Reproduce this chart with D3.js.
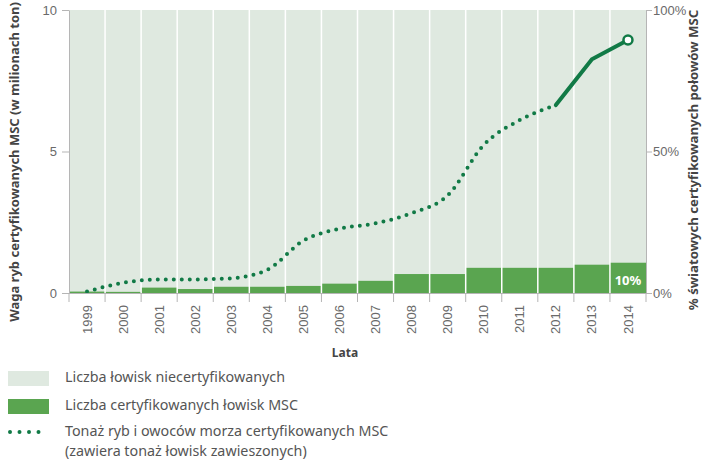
<!DOCTYPE html>
<html>
<head>
<meta charset="utf-8">
<script src="https://cdn.jsdelivr.net/npm/d3@7"></script>
<style>
  body { margin: 0; background: #fff; }
  svg { font-family: "Noto Sans", "Open Sans", sans-serif; }
</style>
</head>
<body>
<div class="chart"></div>
<script>
const years = ["1999", "2000", "2001", "2002", "2003", "2004", "2005", "2006",
               "2007", "2008", "2009", "2010", "2011", "2012", "2013", "2014"];
// share of certified catch (%), bars, right axis
const certifiedShare = [0.5, 0.4, 1.9, 1.4, 2.2, 2.2, 2.5, 3.3, 4.3, 6.7, 6.7, 8.9, 8.9, 8.9, 10.0, 10.7];
// certified tonnage (million t), line, left axis
const tonnage = [0.05, 0.36, 0.48, 0.48, 0.52, 0.82, 1.85, 2.27, 2.46, 2.82, 3.45, 5.23, 6.11, 6.64, 8.26, 8.94];
const solidFrom = "2012";
const leftTicks = [0, 5, 10];
const rightTicks = [0, 50, 100];
const legendItems = [
  { type: "rect", color: "#dfe9e0", lines: ["Liczba łowisk niecertyfikowanych"] },
  { type: "rect", color: "#5aa550", lines: ["Liczba certyfikowanych łowisk MSC"] },
  { type: "dots", color: "#117a46", lines: ["Tonaż ryb i owoców morza certyfikowanych MSC", "(zawiera tonaż łowisk zawieszonych)"] }
];

const width = 705, height = 460;
const margin = { top: 10, right: 59, bottom: 167, left: 69 };
const lineColor = "#117a46";
const axisColor = "#b5b5b5";
const tickColor = "#6a6a6a";

const svg = d3.select(".chart").append("svg")
    .attr("width", width)
    .attr("height", height);

const x = d3.scaleBand()
    .domain(years)
    .range([margin.left, width - margin.right]);

const yLeft = d3.scaleLinear()
    .domain([0, 10])
    .range([height - margin.bottom, margin.top]);

const yRight = d3.scaleLinear()
    .domain([0, 100])
    .range([height - margin.bottom, margin.top]);

// background
svg.append("rect")
    .attr("x", margin.left)
    .attr("y", margin.top)
    .attr("width", x.range()[1] - margin.left)
    .attr("height", yLeft(0) - margin.top)
    .attr("fill", "#dfe9e0");

// bars
svg.append("g").selectAll("rect")
    .data(years)
    .join("rect")
    .attr("x", d => x(d))
    .attr("width", x.bandwidth())
    .attr("y", (d, i) => yRight(certifiedShare[i]))
    .attr("height", (d, i) => yRight(0) - yRight(certifiedShare[i]))
    .attr("fill", "#5aa550");

// white separators
svg.append("g").selectAll("line")
    .data(years.slice(1))
    .join("line")
    .attr("x1", d => x(d))
    .attr("x2", d => x(d))
    .attr("y1", margin.top)
    .attr("y2", yLeft(0))
    .attr("stroke", "#fff")
    .attr("stroke-width", 1.5);

// label inside last bar
const last = years[years.length - 1];
svg.append("text")
    .attr("x", x(last) + x.bandwidth() / 2)
    .attr("y", yRight(0) - 8)
    .attr("text-anchor", "middle")
    .attr("fill", "#fff")
    .attr("font-weight", "bold")
    .attr("font-size", 13)
    .text("10%");

// line
const pts = years.map((d, i) => ({ year: d, v: tonnage[i] }));
const cut = years.indexOf(solidFrom);
const line = d3.line()
    .x(d => x(d.year) + x.bandwidth() / 2)
    .y(d => yLeft(d.v))
    .curve(d3.curveMonotoneX);

svg.append("path")
    .datum(pts.slice(0, cut + 1))
    .attr("d", line)
    .attr("fill", "none")
    .attr("stroke", lineColor)
    .attr("stroke-width", 4)
    .attr("stroke-linecap", "round")
    .attr("stroke-dasharray", "0 8");

svg.append("path")
    .datum(pts.slice(cut))
    .attr("d", line.curve(d3.curveLinear))
    .attr("fill", "none")
    .attr("stroke", lineColor)
    .attr("stroke-width", 4)
    .attr("stroke-linecap", "round");

svg.append("circle")
    .attr("cx", x(last) + x.bandwidth() / 2)
    .attr("cy", yLeft(tonnage[tonnage.length - 1]))
    .attr("r", 4.5)
    .attr("fill", "#fff")
    .attr("stroke", lineColor)
    .attr("stroke-width", 2.5);

// axes
function styleAxis(g) {
    g.selectAll(".domain").attr("stroke", axisColor);
    g.selectAll(".tick line").attr("stroke", axisColor);
    g.selectAll(".tick text").attr("fill", tickColor).attr("font-size", 13);
}

svg.append("g")
    .attr("transform", `translate(${margin.left},0)`)
    .call(d3.axisLeft(yLeft).tickValues(leftTicks).tickSize(7).tickSizeOuter(0))
    .call(styleAxis)
    .call(g => g.selectAll(".tick text").attr("x", -12));

svg.append("g")
    .attr("transform", `translate(${width - margin.right},0)`)
    .call(d3.axisRight(yRight).tickValues(rightTicks).tickFormat(d => d + "%").tickSize(6).tickSizeOuter(0))
    .call(styleAxis)
    .call(g => g.selectAll(".tick text").attr("x", 7));

const xAxis = svg.append("g")
    .attr("transform", `translate(0,${yLeft(0)})`)
    .call(d3.axisBottom(x).tickSize(0))
    .call(styleAxis);
xAxis.select(".domain").attr("d", `M${margin.left - 7},0.5H${width - margin.right + 6}`);
xAxis.selectAll(".tick text")
    .attr("transform", "rotate(-90)")
    .attr("text-anchor", "end")
    .attr("dy", "0.35em")
    .attr("x", -12)
    .attr("y", 0);

svg.append("g").selectAll("line")
    .data(years.concat(["end"]))
    .join("line")
    .attr("x1", d => d === "end" ? x.range()[1] : x(d))
    .attr("x2", d => d === "end" ? x.range()[1] : x(d))
    .attr("y1", yLeft(0))
    .attr("y2", yLeft(0) + 9)
    .attr("stroke", axisColor);

// axis titles
svg.append("text")
    .attr("transform", `translate(19,162) rotate(-90)`)
    .attr("text-anchor", "middle")
    .attr("font-weight", "bold")
    .attr("font-size", 13)
    .attr("fill", "#444")
    .text("Waga ryb certyfikowanych MSC (w milionach ton)");

svg.append("text")
    .attr("transform", `translate(698,160) rotate(-90)`)
    .attr("text-anchor", "middle")
    .attr("font-weight", "bold")
    .attr("font-size", 13.2)
    .attr("fill", "#444")
    .text("% światowych certyfikowanych połowów MSC");

svg.append("text")
    .attr("x", 345)
    .attr("y", 357)
    .attr("text-anchor", "middle")
    .attr("font-weight", "bold")
    .attr("font-size", 12)
    .attr("fill", "#444")
    .text("Lata");

// legend
const legendTop = [371, 399, 425];
const legend = svg.append("g");
legendItems.forEach((item, i) => {
    const g = legend.append("g").attr("transform", `translate(8,${legendTop[i]})`);
    if (item.type === "rect") {
        g.append("rect").attr("width", 41).attr("height", 15).attr("fill", item.color);
    } else {
        g.append("line")
            .attr("x1", 2).attr("x2", 40).attr("y1", 7).attr("y2", 7)
            .attr("stroke", item.color)
            .attr("stroke-width", 4)
            .attr("stroke-linecap", "round")
            .attr("stroke-dasharray", "0 9.5");
    }
    g.selectAll("text")
        .data(item.lines)
        .join("text")
        .attr("x", 57)
        .attr("y", (d, j) => 11 + j * 19.5)
        .attr("font-size", 14.3)
        .attr("fill", "#555")
        .text(d => d);
});
</script>
</body>
</html>
